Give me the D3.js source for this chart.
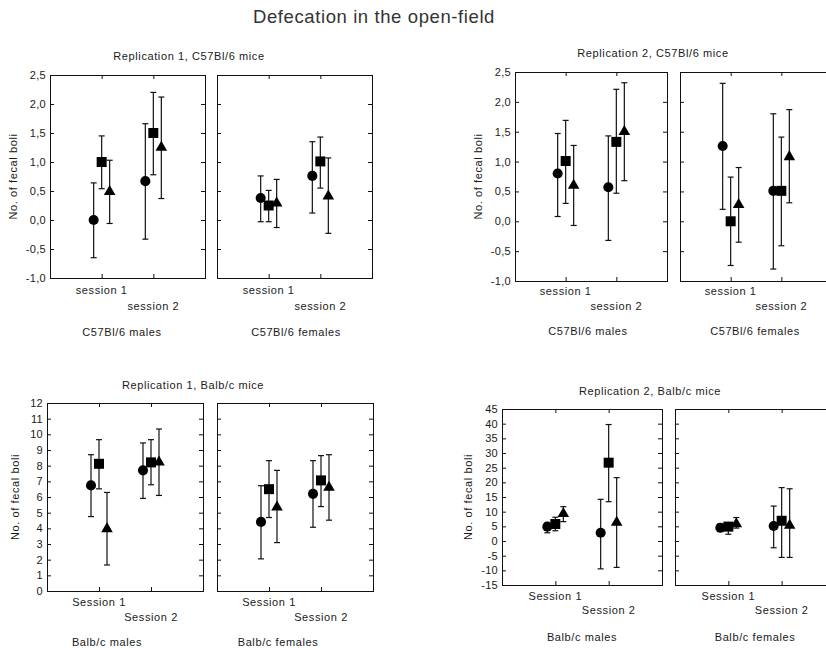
<!DOCTYPE html>
<html lang="en">
<head>
<meta charset="UTF-8">
<script src="https://d3js.org/d3.v7.min.js"></script>
<title>Defecation in the open-field</title>
<style>
    body { margin: 0; background: #fff; }
    text { font-family: "Liberation Sans", Arial, sans-serif; fill: #1a1a1a; }
    .frame { fill: none; stroke: #111; stroke-width: 1px; }
    .tick line { stroke: #111; }
    .err { stroke: #111; stroke-width: 1.2px; }
    .lbl { font-size: 11px; letter-spacing: 0.6px; }
</style>
</head>
<body>
<div id="chart"></div>
<script>
// three groups of animals, shown only by marker shape (no legend in the original)
var seriesShapes = ["circle", "square", "triangle"];
var sessionsLower = ["session 1", "session 2"];
var sessionsUpper = ["Session 1", "Session 2"];
var c57Groups = ["C57Bl/6 males", "C57Bl/6 females"];
var balbGroups = ["Balb/c males", "Balb/c females"];

var c57Ticks = [-1, -0.5, 0, 0.5, 1, 1.5, 2, 2.5];
var balbRep1Ticks = [0, 1, 2, 3, 4, 5, 6, 7, 8, 9, 10, 11, 12];
var balbRep2Ticks = [-15, -10, -5, 0, 5, 10, 15, 20, 25, 30, 35, 40, 45];

// values are [group][session][series]
var rep1C57Mean = [[[0.00, 1.00, 0.49], [0.67, 1.50, 1.25]], [[0.38, 0.25, 0.29], [0.76, 1.01, 0.41]]];
var rep1C57Low  = [[[-0.65, 0.54, -0.06], [-0.33, 0.78, 0.37]], [[-0.03, -0.03, -0.13], [0.12, 0.55, -0.23]]];
var rep1C57High = [[[0.64, 1.45, 1.03], [1.66, 2.20, 2.12]], [[0.76, 0.51, 0.70], [1.35, 1.43, 1.07]]];

var rep2C57Mean = [[[0.80, 1.01, 0.60], [0.57, 1.33, 1.50]], [[1.26, 0.00, 0.28], [0.51, 0.51, 1.08]]];
var rep2C57Low  = [[[0.08, 0.30, -0.07], [-0.32, 0.47, 0.68]], [[0.20, -0.74, -0.35], [-0.80, -0.41, 0.31]]];
var rep2C57High = [[[1.47, 1.69, 1.27], [1.43, 2.21, 2.32]], [[2.31, 0.74, 0.90], [1.80, 1.41, 1.87]]];

var rep1BalbMean = [[[6.74, 8.12, 3.97], [7.70, 8.21, 8.23]], [[4.41, 6.50, 5.35], [6.20, 7.06, 6.61]]];
var rep1BalbLow  = [[[4.75, 6.52, 1.66], [5.91, 6.78, 6.10]], [[2.05, 4.69, 3.09], [4.07, 5.39, 4.52]]];
var rep1BalbHigh = [[[8.70, 9.66, 6.29], [9.45, 9.66, 10.34]], [[6.72, 8.32, 7.70], [8.32, 8.64, 8.70]]];

var rep2BalbMean = [[[4.9, 5.8, 9.3], [2.8, 26.7, 6.3]], [[4.5, 4.9, 5.8], [5.1, 6.9, 5.3]]];
var rep2BalbLow  = [[[2.8, 3.5, 6.6], [-9.5, 13.4, -9.0]], [[3.2, 2.3, 4.4], [-2.3, -5.6, -5.6]]];
var rep2BalbHigh = [[[6.0, 8.1, 11.7], [14.2, 39.7, 21.6]], [[5.8, 6.3, 8.0], [11.9, 18.2, 17.8]]];

// comma as decimal sign, plain hyphen for minus
var locale = d3.formatLocale({ decimal: ",", thousands: ".", grouping: [3], currency: ["", ""], minus: "-" });

var panels = [
    { title: "Replication 1, C57Bl/6 mice", groups: c57Groups, sessions: sessionsLower, ticks: c57Ticks, fmt: ".1f",
      mean: rep1C57Mean, low: rep1C57Low, high: rep1C57High,
      x0: 50, w: 155, gap: 12, top: 75, bottom: 278, titleX: 189, titleY: 60,
      yLabX: 13, rows: [16, 32, 58], groupX: [122, 296] },
    { title: "Replication 2, C57Bl/6 mice", groups: c57Groups, sessions: sessionsLower, ticks: c57Ticks, fmt: ".1f",
      mean: rep2C57Mean, low: rep2C57Low, high: rep2C57High,
      x0: 515, w: 152, gap: 13, top: 72, bottom: 281, titleX: 653, titleY: 57,
      yLabX: 478, rows: [14, 29, 54], groupX: [588, 755] },
    { title: "Replication 1, Balb/c mice", groups: balbGroups, sessions: sessionsUpper, ticks: balbRep1Ticks, fmt: "d",
      mean: rep1BalbMean, low: rep1BalbLow, high: rep1BalbHigh,
      x0: 47, w: 156, gap: 14, top: 403, bottom: 591, titleX: 193, titleY: 389,
      yLabX: 15, rows: [15, 30, 55], groupX: [107, 278] },
    { title: "Replication 2, Balb/c mice", groups: balbGroups, sessions: sessionsUpper, ticks: balbRep2Ticks, fmt: "d",
      mean: rep2BalbMean, low: rep2BalbLow, high: rep2BalbHigh,
      x0: 502, w: 160, gap: 13, top: 409, bottom: 585, titleX: 650, titleY: 395,
      yLabX: 468, rows: [15, 29, 56], groupX: [582, 755] }
];

var svg = d3.select("#chart").append("svg")
    .attr("width", 826)
    .attr("height", 648);

svg.append("text")
    .attr("x", 374)
    .attr("y", 23)
    .attr("text-anchor", "middle")
    .style("font-size", "18.5px")
    .style("letter-spacing", "0.6px")
    .style("fill", "#333")
    .text("Defecation in the open-field");

var symbolTypes = { circle: d3.symbolCircle, square: d3.symbolSquare, triangle: d3.symbolTriangle };
var symbolSizes = { circle: 80, square: 100, triangle: 58 };

var offset = d3.scalePoint().domain(seriesShapes).range([-8, 8]);

panels.forEach(function (p) {
    var g = svg.append("g");

    var y = d3.scaleLinear()
        .domain([p.ticks[0], p.ticks[p.ticks.length - 1]])
        .range([p.bottom, p.top]);

    g.append("text")
        .attr("class", "lbl")
        .attr("x", p.titleX)
        .attr("y", p.titleY)
        .attr("text-anchor", "middle")
        .text(p.title);

    g.append("text")
        .attr("class", "lbl")
        .attr("transform", "rotate(-90)")
        .attr("x", -(p.top + p.bottom) / 2)
        .attr("y", p.yLabX)
        .attr("dy", "0.35em")
        .attr("text-anchor", "middle")
        .text("No. of fecal boli");

    p.groups.forEach(function (grp, gi) {
        var left = p.x0 + gi * (p.w + p.gap);
        var x = d3.scalePoint().domain(p.sessions).range([left, left + p.w]).padding(1);

        // inward ticks on all four sides
        var yl = d3.axisLeft(y).tickValues(p.ticks).tickSize(-4).tickSizeOuter(0).tickPadding(4)
            .tickFormat(gi === 0 ? locale.format(p.fmt) : "");
        g.append("g").attr("transform", "translate(" + left + ",0)").call(yl)
            .call(function (a) {
                a.select(".domain").remove();
                a.selectAll("text").attr("class", "lbl").style("letter-spacing", "0.3px").attr("fill", "#1a1a1a");
            });
        g.append("g").attr("transform", "translate(" + (left + p.w) + ",0)")
            .call(d3.axisRight(y).tickValues(p.ticks).tickSize(-4).tickSizeOuter(0).tickFormat(""))
            .call(function (a) { a.select(".domain").remove(); });
        g.append("g").attr("transform", "translate(0," + p.bottom + ")")
            .call(d3.axisBottom(x).tickSize(-4).tickSizeOuter(0).tickFormat(""))
            .call(function (a) { a.select(".domain").remove(); });
        g.append("g").attr("transform", "translate(0," + p.top + ")")
            .call(d3.axisTop(x).tickSize(-4).tickSizeOuter(0).tickFormat(""))
            .call(function (a) { a.select(".domain").remove(); });

        g.append("rect")
            .attr("class", "frame")
            .attr("x", left + 0.5)
            .attr("y", p.top + 0.5)
            .attr("width", p.w)
            .attr("height", p.bottom - p.top);

        // staggered session labels
        g.selectAll(null)
            .data(p.sessions)
            .enter().append("text")
            .attr("class", "lbl")
            .attr("x", function (d) { return x(d); })
            .attr("y", function (d, i) { return p.bottom + p.rows[i]; })
            .attr("text-anchor", "middle")
            .text(function (d) { return d; });

        g.append("text")
            .attr("class", "lbl")
            .attr("x", p.groupX[gi])
            .attr("y", p.bottom + p.rows[2])
            .attr("text-anchor", "middle")
            .text(grp);

        var pts = [];
        p.sessions.forEach(function (s, si) {
            seriesShapes.forEach(function (sh, ki) {
                pts.push({
                    cx: x(s) + offset(sh),
                    shape: sh,
                    m: p.mean[gi][si][ki],
                    lo: p.low[gi][si][ki],
                    hi: p.high[gi][si][ki]
                });
            });
        });

        var pt = g.selectAll(null).data(pts).enter().append("g");

        pt.append("line")
            .attr("class", "err")
            .attr("x1", function (d) { return d.cx; })
            .attr("x2", function (d) { return d.cx; })
            .attr("y1", function (d) { return y(d.lo); })
            .attr("y2", function (d) { return y(d.hi); });

        pt.selectAll(null)
            .data(function (d) { return [[d.cx, d.lo], [d.cx, d.hi]]; })
            .enter().append("line")
            .attr("class", "err")
            .attr("x1", function (d) { return d[0] - 3; })
            .attr("x2", function (d) { return d[0] + 3; })
            .attr("y1", function (d) { return y(d[1]); })
            .attr("y2", function (d) { return y(d[1]); });

        pt.append("path")
            .attr("transform", function (d) { return "translate(" + d.cx + "," + y(d.m) + ")"; })
            .attr("d", function (d) { return d3.symbol(symbolTypes[d.shape], symbolSizes[d.shape])(); })
            .attr("fill", "#000");
    });
});
</script>
</body>
</html>
